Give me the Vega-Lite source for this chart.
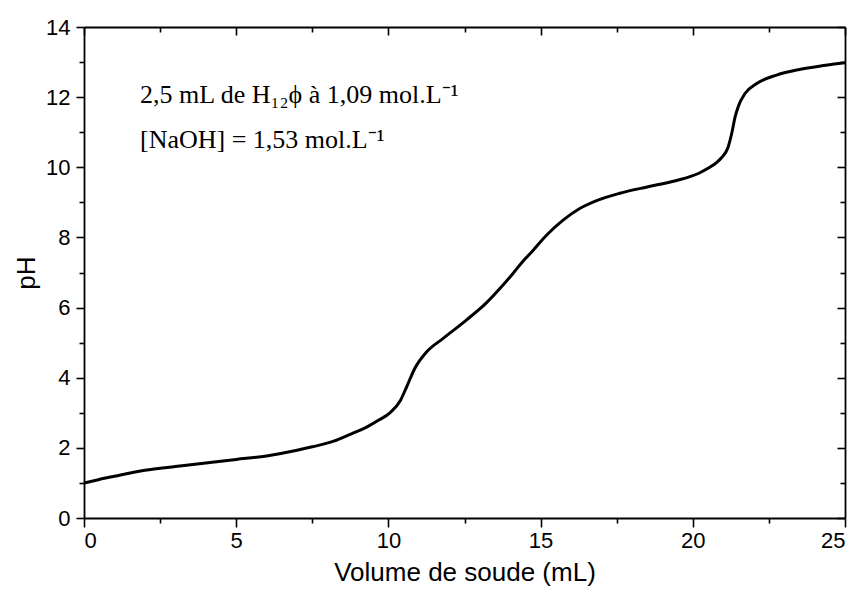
{
  "$schema": "https://vega.github.io/schema/vega-lite/v6.json",
  "width": 761,
  "height": 491,
  "autosize": {"type": "none"},
  "padding": {"left": 84, "top": 27, "right": 14, "bottom": 72},
  "background": "white",
  "config": {
    "view": {"stroke": null},
    "axis": {
      "labelFont": "Liberation Sans",
      "titleFont": "Liberation Sans",
      "labelColor": "black",
      "titleColor": "black",
      "domainColor": "black",
      "tickColor": "black",
      "labelFontSize": 22,
      "titleFontSize": 26,
      "titleFontWeight": "normal",
      "domainWidth": 1.8,
      "tickWidth": 1.6,
      "grid": false
    }
  },
  "datasets": {
    "curve": [
      {"v": 0, "pH": 1.0},
      {"v": 0.5, "pH": 1.1},
      {"v": 1.0, "pH": 1.19},
      {"v": 2.0, "pH": 1.36},
      {"v": 3.0, "pH": 1.47},
      {"v": 4.0, "pH": 1.57},
      {"v": 5.0, "pH": 1.67},
      {"v": 6.0, "pH": 1.77},
      {"v": 7.0, "pH": 1.93},
      {"v": 7.5, "pH": 2.03},
      {"v": 8.2, "pH": 2.19},
      {"v": 8.7, "pH": 2.37},
      {"v": 9.3, "pH": 2.6},
      {"v": 9.7, "pH": 2.8},
      {"v": 10.05, "pH": 3.0},
      {"v": 10.4, "pH": 3.36},
      {"v": 10.6, "pH": 3.74},
      {"v": 10.87, "pH": 4.27},
      {"v": 11.26, "pH": 4.74},
      {"v": 11.8, "pH": 5.12},
      {"v": 12.57, "pH": 5.65},
      {"v": 13.2, "pH": 6.12},
      {"v": 13.7, "pH": 6.58},
      {"v": 14.1, "pH": 6.98},
      {"v": 14.4, "pH": 7.3},
      {"v": 14.75, "pH": 7.63},
      {"v": 15.2, "pH": 8.07},
      {"v": 15.75, "pH": 8.5},
      {"v": 16.3, "pH": 8.83},
      {"v": 16.84, "pH": 9.05},
      {"v": 17.6, "pH": 9.26},
      {"v": 18.5, "pH": 9.44},
      {"v": 19.4, "pH": 9.61},
      {"v": 20.2, "pH": 9.83},
      {"v": 20.5, "pH": 9.97},
      {"v": 20.8, "pH": 10.15},
      {"v": 20.95, "pH": 10.28},
      {"v": 21.15, "pH": 10.55},
      {"v": 21.28, "pH": 10.97},
      {"v": 21.39, "pH": 11.44},
      {"v": 21.5, "pH": 11.75},
      {"v": 21.72, "pH": 12.11},
      {"v": 22.1, "pH": 12.39},
      {"v": 22.75, "pH": 12.63},
      {"v": 23.5, "pH": 12.79},
      {"v": 24.3, "pH": 12.9},
      {"v": 25.0, "pH": 12.98}
    ],
    "notes": [
      {"v": 1.84, "pH": 11.83, "label": "2,5 mL de H₁₂ϕ à 1,09 mol.L⁻¹"},
      {"v": 1.84, "pH": 10.55, "label": "[NaOH] = 1,53 mol.L⁻¹"}
    ]
  },
  "layer": [
    {
      "data": {"name": "curve"},
      "mark": {"type": "line", "color": "black", "strokeWidth": 3, "interpolate": "monotone"},
      "encoding": {
        "x": {
          "field": "v", "type": "quantitative",
          "scale": {"domain": [0, 25], "nice": false, "zero": false},
          "axis": {
            "orient": "bottom",
            "title": "Volume de soude (mL)",
            "values": [0, 2.5, 5, 7.5, 10, 12.5, 15, 17.5, 20, 22.5, 25],
            "labelExpr": "datum.value % 5 === 0 ? datum.label : ''",
            "tickSize": {"condition": {"test": "datum.value % 5 === 0", "value": 9}, "value": 5},
            "labelPadding": 3,
            "titlePadding": 8
          }
        },
        "y": {
          "field": "pH", "type": "quantitative",
          "scale": {"domain": [0, 14], "nice": false, "zero": false},
          "axis": {
            "orient": "left",
            "title": "pH",
            "values": [0, 1, 2, 3, 4, 5, 6, 7, 8, 9, 10, 11, 12, 13, 14],
            "labelExpr": "datum.value % 2 === 0 ? datum.label : ''",
            "tickSize": {"condition": {"test": "datum.value % 2 === 0", "value": 8}, "value": 5},
            "labelPadding": 6,
            "titlePadding": 6
          }
        }
      }
    },
    {
      "data": {"name": "curve"},
      "mark": {"type": "line", "color": "black", "strokeWidth": 3, "interpolate": "monotone", "opacity": 0},
      "encoding": {
        "x": {
          "field": "v", "type": "quantitative",
          "axis": {
            "orient": "top",
            "title": null,
            "labels": false,
            "values": [0, 2.5, 5, 7.5, 10, 12.5, 15, 17.5, 20, 22.5, 25],
            "tickSize": {"condition": {"test": "datum.value % 5 === 0", "value": -8}, "value": -5}
          }
        },
        "y": {
          "field": "pH", "type": "quantitative",
          "axis": {
            "orient": "right",
            "title": null,
            "labels": false,
            "values": [0, 1, 2, 3, 4, 5, 6, 7, 8, 9, 10, 11, 12, 13, 14],
            "tickSize": {"condition": {"test": "datum.value % 2 === 0", "value": -8}, "value": -5}
          }
        }
      }
    },
    {
      "data": {"name": "notes"},
      "mark": {"type": "text", "align": "left", "baseline": "alphabetic", "font": "Liberation Serif", "fontSize": 26, "color": "black"},
      "encoding": {
        "x": {"field": "v", "type": "quantitative", "axis": null},
        "y": {"field": "pH", "type": "quantitative", "axis": null},
        "text": {"field": "label"}
      }
    }
  ],
  "resolve": {"axis": {"x": "independent", "y": "independent"}}
}
